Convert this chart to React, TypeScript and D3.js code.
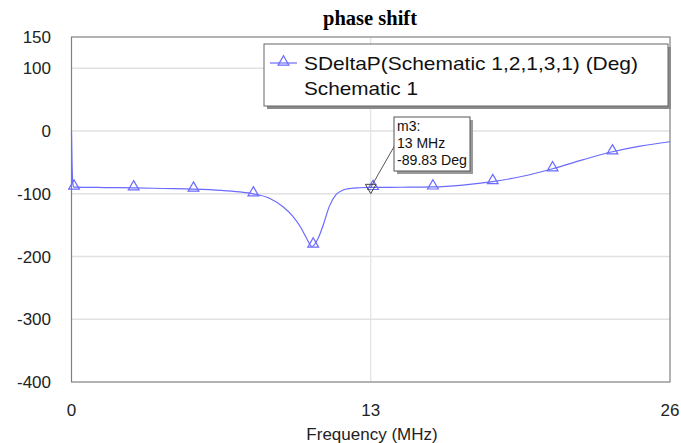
import React from "react";
import * as d3 from "d3";

// Swept phase response of the schematic (MHz, degrees)
const freqMHz = [
  0, 0.02, 0.05, 0.08, 0.11, 1.5, 2.7, 4.0, 5.3, 6.5, 7.3, 7.9, 8.6, 9.2, 9.6, 9.95,
  10.2, 10.45, 10.7, 10.95, 11.2, 11.5, 11.8, 12.1, 12.5, 13, 14.3, 15.7, 17.0,
  18.3, 19.6, 20.9, 22.2, 23.5, 24.7, 26,
];
const phaseDeg = [
  -2, -45, -80, -88, -89.3, -90, -90.5, -91.5, -92.5, -94.5, -97, -100, -107, -121,
  -135, -153, -170, -184, -172, -148, -120, -101, -94, -91.5, -90.3, -89.83, -89.5,
  -89, -86, -80.5, -72, -60, -46, -33, -24, -17,
];

// Frequencies carrying a triangle symbol
const symbolFreqs = [0.11, 2.7, 5.3, 7.9, 10.5, 13.1, 15.7, 18.3, 20.9, 23.5];

const yTicks = [150, 100, 0, -100, -200, -300, -400];
const yGrid = [100, 0, -100, -200, -300];
const xTicks = [0, 13, 26];

const marker = { name: "m3:", freq: 13, value: -89.83 };

const chartTitle = "phase shift";
const xTitle = "Frequency (MHz)";
const legendLines = ["SDeltaP(Schematic 1,2,1,3,1) (Deg)", "Schematic 1"];

const W = 681;
const H = 443;
const plot = { left: 71.5, right: 670, top: 37, bottom: 382 };
const lineColor = "#6a6aff";
const font = "'Liberation Sans', Arial, sans-serif";

export default function App() {
  const x = d3.scaleLinear().domain([0, 26]).range([plot.left, plot.right]);
  const y = d3.scaleLinear().domain([-400, 150]).range([plot.bottom, plot.top]);

  const pts: [number, number][] = freqMHz.map((f, i) => [f, phaseDeg[i]]);
  const line = d3
    .line<[number, number]>()
    .x((d) => x(d[0]))
    .y((d) => y(d[1]))
    .curve(d3.curveMonotoneX);

  const valueAt = (f: number) => {
    const i = d3.bisectLeft(freqMHz, f);
    if (i <= 0) return phaseDeg[0];
    if (i >= freqMHz.length) return phaseDeg[phaseDeg.length - 1];
    const t = (f - freqMHz[i - 1]) / (freqMHz[i] - freqMHz[i - 1]);
    return phaseDeg[i - 1] + t * (phaseDeg[i] - phaseDeg[i - 1]);
  };

  const tri = d3.symbol(d3.symbolTriangle, 50)();

  const mx = x(marker.freq);
  const my = y(marker.value);
  const box = { x: 394, y: 117, w: 76, h: 54 };

  const legend = { x: 264, y: 44, w: 404, h: 62 };

  return (
    <svg width={W} height={H} style={{ position: "absolute", left: 0, top: 0 }}>
      <rect width={W} height={H} fill="#fff" />
      <text
        x={370}
        y={25}
        textAnchor="middle"
        fontFamily="'Liberation Serif', 'Times New Roman', serif"
        fontWeight="bold"
        fontSize={20.5}
        fill="#000"
      >
        {chartTitle}
      </text>

      {/* grid */}
      {yGrid.map((v) => (
        <line key={v} x1={plot.left} x2={plot.right} y1={y(v)} y2={y(v)} stroke="#e2e2e2" strokeWidth={1.5} />
      ))}
      <line x1={x(13)} x2={x(13)} y1={plot.top} y2={plot.bottom} stroke="#dcdcdc" strokeWidth={1} />

      {/* frame */}
      <rect
        x={plot.left}
        y={plot.top}
        width={plot.right - plot.left}
        height={plot.bottom - plot.top}
        fill="none"
        stroke="#808080"
        strokeWidth={1.2}
      />

      {/* y tick labels */}
      {yTicks.map((v) => (
        <text key={v} x={51} y={y(v) + 6} textAnchor="end" fontFamily={font} fontSize={17} fill="#222">
          {v}
        </text>
      ))}
      {/* x tick labels */}
      {xTicks.map((v) => (
        <text key={v} x={x(v)} y={416} textAnchor="middle" fontFamily={font} fontSize={17} fill="#222">
          {v}
        </text>
      ))}
      <text x={372} y={440} textAnchor="middle" fontFamily={font} fontSize={17} fill="#222">
        {xTitle}
      </text>

      {/* trace */}
      <path d={line(pts) || ""} fill="none" stroke={lineColor} strokeWidth={1.2} />
      {symbolFreqs.map((f) => (
        <path
          key={f}
          d={tri || ""}
          transform={`translate(${x(f)},${y(valueAt(f)) - 1})`}
          fill="none"
          stroke={lineColor}
          strokeWidth={1.2}
        />
      ))}

      {/* legend */}
      <rect x={legend.x + 3} y={legend.y + 3} width={legend.w} height={legend.h} fill="#8a8a8a" />
      <rect x={legend.x} y={legend.y} width={legend.w} height={legend.h} fill="#fff" stroke="#666" strokeWidth={1} />
      <line x1={270} x2={297} y1={63} y2={63} stroke={lineColor} strokeWidth={1.2} />
      <path d={tri || ""} transform="translate(283.5,62)" fill="none" stroke={lineColor} strokeWidth={1.2} />
      <text x={304} y={70} fontFamily={font} fontSize={18.5} fill="#111" textLength={334} lengthAdjust="spacingAndGlyphs">
        {legendLines[0]}
      </text>
      <text x={304} y={95} fontFamily={font} fontSize={18.5} fill="#111" textLength={114} lengthAdjust="spacingAndGlyphs">
        {legendLines[1]}
      </text>

      {/* marker readout */}
      <line x1={box.x + 1} y1={box.y + 28} x2={mx} y2={my} stroke="#555" strokeWidth={1} />
      <path d={tri || ""} transform={`translate(${mx},${my}) rotate(180)`} fill="none" stroke="#444" strokeWidth={1} />
      <rect x={box.x + 3} y={box.y + 3} width={box.w} height={box.h} fill="#9a9a9a" />
      <rect x={box.x} y={box.y} width={box.w} height={box.h} fill="#fff" stroke="#555" strokeWidth={1} />
      <text x={box.x + 3} y={box.y + 14} fontFamily={font} fontSize={14} fill="#111">
        {marker.name}
      </text>
      <text x={box.x + 3} y={box.y + 31} fontFamily={font} fontSize={14} fill="#111">
        {`${marker.freq} MHz`}
      </text>
      <text x={box.x + 3} y={box.y + 48} fontFamily={font} fontSize={14} fill="#111" textLength={70} lengthAdjust="spacingAndGlyphs">
        {`${marker.value} Deg`}
      </text>
    </svg>
  );
}
